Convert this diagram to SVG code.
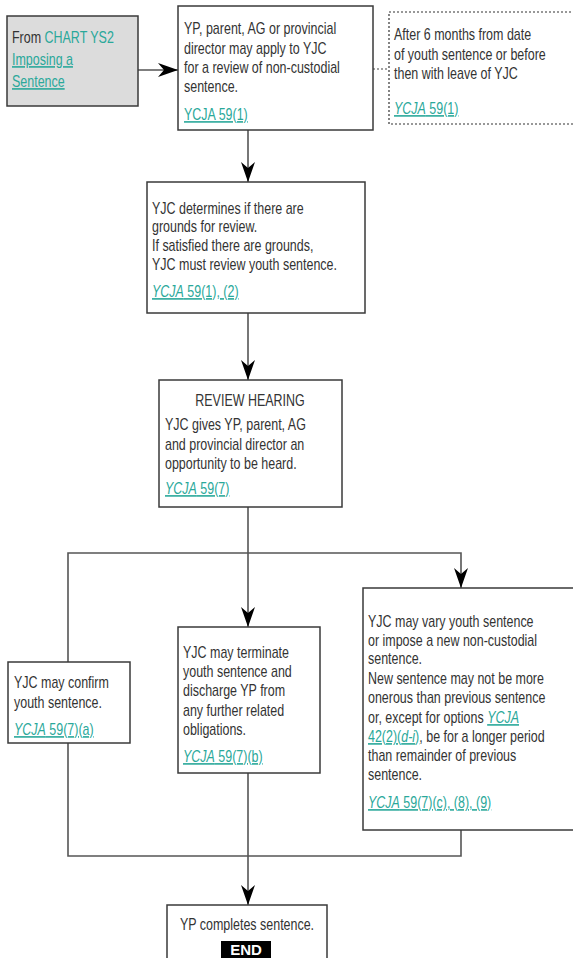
<svg xmlns="http://www.w3.org/2000/svg" width="573" height="958" viewBox="0 0 573 958">
<defs>
<style>
.box{fill:#fff;stroke:#3a3a3a;stroke-width:1.5}
.gray{fill:#dcdcdc;stroke:#3a3a3a;stroke-width:1.5}
.dot{fill:#fff;stroke:#333;stroke-width:1.2;stroke-dasharray:2 2}
.ln{fill:none;stroke:#555;stroke-width:1.6}
.dl{fill:none;stroke:#444;stroke-width:1.2;stroke-dasharray:2 2}
.t{font-family:"Liberation Sans",Arial,sans-serif;font-size:16px;fill:#333}
.l{fill:#2aa89a;text-decoration:underline}
.c{fill:#2aa89a}
.i{font-style:italic}
.end{font-family:"Liberation Sans",Arial,sans-serif;font-size:15px;font-weight:bold;fill:#fff}
</style>
<marker id="ah" viewBox="0 0 20 14" refX="20" refY="7" markerWidth="21" markerHeight="14" markerUnits="userSpaceOnUse" orient="auto">
<path d="M0,0 L20,7 L0,14 L6,7 Z" fill="#000"/>
</marker>
</defs>
<rect width="573" height="958" fill="#fff"/>
<g id="connectors">
<line class="ln" x1="138" y1="70" x2="178" y2="70" marker-end="url(#ah)"/>
<line class="dl" x1="373" y1="69" x2="389" y2="69"/>
<line class="ln" x1="248" y1="130" x2="248" y2="182" marker-end="url(#ah)"/>
<line class="ln" x1="248" y1="313" x2="248" y2="380" marker-end="url(#ah)"/>
<line class="ln" x1="248" y1="507" x2="248" y2="627" marker-end="url(#ah)"/>
<polyline class="ln" points="68,662 68,553 461,553 461,588" marker-end="url(#ah)"/>
<polyline class="ln" points="68,743 68,856 461,856 461,830"/>
<line class="ln" x1="248" y1="773" x2="248" y2="905" marker-end="url(#ah)"/>
</g>
<g id="from-chart">
<rect class="gray" x="7" y="16" width="131" height="90"/>
<text class="t" transform="translate(12,0) scale(0.78,1)"><tspan x="0" y="43">From <tspan class="c">CHART YS2</tspan></tspan><tspan x="0" y="65" class="l">Imposing a</tspan><tspan x="0" y="87" class="l">Sentence</tspan></text>
</g>
<g id="apply">
<rect class="box" x="178" y="6" width="195" height="124"/>
<text class="t" transform="translate(184,0) scale(0.78,1)"><tspan x="0" y="34">YP, parent, AG or provincial</tspan><tspan x="0" y="54">director may apply to YJC</tspan><tspan x="0" y="73">for a review of non-custodial</tspan><tspan x="0" y="92">sentence.</tspan><tspan x="0" y="120" class="l">YCJA 59(1)</tspan></text>
</g>
<g id="after6">
<rect class="dot" x="389" y="12" width="190" height="112"/>
<text class="t" transform="translate(394,0) scale(0.78,1)"><tspan x="0" y="40">After 6 months from date</tspan><tspan x="0" y="60">of youth sentence or before</tspan><tspan x="0" y="79">then with leave of YJC</tspan><tspan x="0" y="114" class="l"><tspan class="i">YCJA</tspan> 59(1)</tspan></text>
</g>
<g id="determines">
<rect class="box" x="147" y="182" width="218" height="131"/>
<text class="t" transform="translate(152,0) scale(0.78,1)"><tspan x="0" y="214">YJC determines if there are</tspan><tspan x="0" y="232">grounds for review.</tspan><tspan x="0" y="251">If satisfied there are grounds,</tspan><tspan x="0" y="270">YJC must review youth sentence.</tspan><tspan x="0" y="297" class="l"><tspan class="i">YCJA</tspan> 59(1), (2)</tspan></text>
</g>
<g id="hearing">
<rect class="box" x="159" y="380" width="183" height="127"/>
<text class="t" text-anchor="middle" transform="translate(250,0) scale(0.78,1)"><tspan x="0" y="406">REVIEW HEARING</tspan></text>
<text class="t" transform="translate(165,0) scale(0.78,1)"><tspan x="0" y="430">YJC gives YP, parent, AG</tspan><tspan x="0" y="450">and provincial director an</tspan><tspan x="0" y="469">opportunity to be heard.</tspan><tspan x="0" y="494" class="l"><tspan class="i">YCJA</tspan> 59(7)</tspan></text>
</g>
<g id="confirm">
<rect class="box" x="8" y="662" width="122" height="81"/>
<text class="t" transform="translate(14,0) scale(0.78,1)"><tspan x="0" y="688">YJC may confirm</tspan><tspan x="0" y="708">youth sentence.</tspan><tspan x="0" y="735" class="l"><tspan class="i">YCJA</tspan> 59(7)(a)</tspan></text>
</g>
<g id="terminate">
<rect class="box" x="178" y="627" width="142" height="146"/>
<text class="t" transform="translate(183,0) scale(0.78,1)"><tspan x="0" y="658">YJC may terminate</tspan><tspan x="0" y="677">youth sentence and</tspan><tspan x="0" y="696">discharge YP from</tspan><tspan x="0" y="716">any further related</tspan><tspan x="0" y="735">obligations.</tspan><tspan x="0" y="762" class="l"><tspan class="i">YCJA</tspan> 59(7)(b)</tspan></text>
</g>
<g id="vary">
<rect class="box" x="363" y="588" width="215" height="242"/>
<text class="t" transform="translate(368,0) scale(0.78,1)"><tspan x="0" y="627">YJC may vary youth sentence</tspan><tspan x="0" y="646">or impose a new non-custodial</tspan><tspan x="0" y="664">sentence.</tspan><tspan x="0" y="684">New sentence may not be more</tspan><tspan x="0" y="703">onerous than previous sentence</tspan><tspan x="0" y="723">or, except for options <tspan class="l i">YCJA</tspan></tspan><tspan x="0" y="742"><tspan class="l">42(2)(<tspan class="i">d-i</tspan>)</tspan>, be for a longer period</tspan><tspan x="0" y="761">than remainder of previous</tspan><tspan x="0" y="780">sentence.</tspan><tspan x="0" y="808" class="l"><tspan class="i">YCJA</tspan> 59(7)(c), (8), (9)</tspan></text>
</g>
<g id="end">
<rect class="box" x="167" y="905" width="160" height="60"/>
<text class="t" text-anchor="middle" transform="translate(247,0) scale(0.78,1)"><tspan x="0" y="930">YP completes sentence.</tspan></text>
<rect x="221" y="941" width="50" height="17" fill="#000"/>
<text class="end" x="246" y="955" text-anchor="middle">END</text>
</g>
</svg>
